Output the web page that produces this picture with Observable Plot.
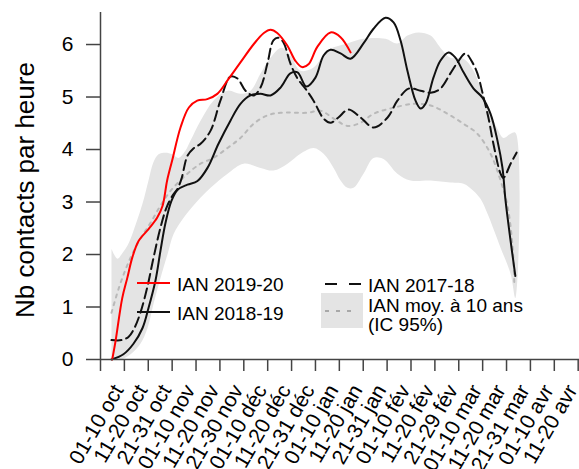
<!DOCTYPE html>
<html><head><meta charset="utf-8">
<script src="https://cdn.jsdelivr.net/npm/d3@7"></script>
<script src="https://cdn.jsdelivr.net/npm/@observablehq/plot@0.6"></script>
<style>
body{margin:0;background:#fff;}
#chart{width:579px;height:469px;}
</style></head><body><div id="chart"></div>
<script>
// ---- tick labels (x positions 1..20) ----
const xTickLabels = ["01-10 oct","11-20 oct","21-31 oct","01-10 nov","11-20 nov","21-30 nov","01-10 déc","11-20 déc","21-31 déc","01-10 jan","11-20 jan","21-31 jan","01-10 fév","11-20 fév","21-29 fév","01-10 mar","11-20 mar","21-31 mar","01-10 avr","11-20 avr"];
const yTicks = [0,1,2,3,4,5,6];

// ---- IAN 2019-20 (red) ----
const ian1920_x = [0.49,0.63,0.91,1.12,1.33,1.60,2.02,2.37,2.60,2.79,3.00,3.35,3.70,4.05,4.47,4.89,5.37,5.86,6.42,6.84,7.12,7.40,7.82,8.16,8.44,8.72,9.07,9.63,10.05,10.47];
const ian1920_y = [0.00,0.35,1.17,1.55,1.94,2.26,2.49,2.70,2.93,3.41,3.79,4.42,4.80,4.93,4.96,5.06,5.35,5.66,6.01,6.22,6.28,6.22,5.98,5.69,5.57,5.63,5.95,6.23,6.14,5.85];

// ---- IAN 2018-19 (black solid) ----
const ian1819_x = [0.46,0.96,1.38,1.76,2.01,2.30,2.51,2.72,2.97,3.22,3.64,4.06,4.48,4.94,5.44,5.86,6.28,6.70,7.12,7.54,7.95,8.25,8.62,9.00,9.34,9.63,10.05,10.47,11.01,11.43,11.93,12.27,12.56,12.85,13.19,13.40,13.61,13.94,14.23,14.57,14.86,15.20,15.62,15.99,16.33,16.62,16.83,16.96,17.17,17.37];
const ian1819_y = [0.00,0.10,0.30,0.60,0.98,1.50,2.07,2.60,3.02,3.23,3.33,3.40,3.65,4.11,4.55,4.87,5.03,5.06,5.03,5.18,5.45,5.47,5.20,5.37,5.79,5.90,5.83,5.73,6.02,6.30,6.51,6.42,6.08,5.50,4.93,4.78,4.87,5.37,5.69,5.85,5.75,5.47,5.16,4.99,4.68,4.17,3.65,3.02,2.26,1.59];

// ---- IAN 2017-18 (black dashed) ----
const ian1718_x = [0.46,0.88,1.17,1.42,1.67,1.97,2.22,2.51,2.76,3.01,3.22,3.39,3.64,3.89,4.19,4.61,5.02,5.44,5.74,6.07,6.41,6.70,6.99,7.24,7.45,7.66,7.95,8.25,8.58,8.92,9.34,9.63,9.96,10.38,10.89,11.43,12.02,12.43,12.90,13.40,13.82,14.23,14.65,14.95,15.28,15.57,15.78,16.04,16.24,16.45,16.75,16.87,17.17,17.42];
const ian1718_y = [0.37,0.37,0.43,0.60,0.89,1.40,1.94,2.51,2.89,3.12,3.25,3.44,3.88,4.02,4.11,4.36,4.93,5.39,5.35,5.12,5.03,5.18,5.64,6.08,6.13,6.04,5.64,5.35,5.16,4.93,4.59,4.51,4.61,4.76,4.61,4.42,4.61,4.93,5.16,5.12,5.08,5.16,5.45,5.66,5.83,5.66,5.45,4.99,4.61,4.11,3.54,3.46,3.73,3.94];

// ---- IAN moyen 10 ans (grey dotted) ----
const mean_x = [0.46,0.84,1.26,1.67,2.09,2.51,2.93,3.64,4.19,4.73,5.32,5.86,6.41,6.99,7.54,8.67,9.21,9.76,10.34,10.89,11.43,12.14,13.11,13.82,14.53,15.20,15.78,16.33,16.75,17.04,17.25,17.33];
const mean_y = [0.89,1.46,1.94,2.30,2.60,2.93,3.21,3.54,3.73,3.84,4.03,4.22,4.49,4.65,4.70,4.70,4.74,4.59,4.45,4.51,4.68,4.78,4.87,4.84,4.68,4.49,4.30,3.92,3.41,2.93,2.16,1.40];

// ---- IC 95% band ----
const bandUp_x = [0.46,0.71,0.92,1.13,1.38,1.76,2.01,2.22,2.43,2.72,3.01,3.27,3.56,3.77,4.19,4.73,5.32,5.86,6.28,6.70,7.12,7.58,7.95,8.37,8.92,9.50,10.34,11.01,11.93,12.43,12.85,13.31,13.82,14.23,14.65,15.20,15.62,15.91,16.33,16.62,16.87,17.17,17.37];
const bandUp_y = [2.11,1.92,2.03,2.17,2.45,2.97,3.41,3.76,3.91,3.94,3.91,3.84,3.98,4.17,4.55,4.93,5.12,5.06,5.12,5.45,5.75,5.94,5.79,5.50,5.56,5.89,6.02,6.11,6.11,6.02,6.17,6.23,6.17,5.94,5.75,5.73,5.50,5.18,4.68,4.39,4.22,4.30,4.32];
const bandLo_x = [0.46,0.84,1.26,1.67,1.97,2.22,2.51,2.81,3.06,3.48,4.06,4.61,5.32,5.99,6.70,7.24,7.83,8.37,8.92,9.34,9.76,10.05,10.34,10.59,11.01,11.43,11.85,12.43,12.98,13.82,14.65,15.20,15.62,15.91,16.20,16.75,17.17,17.37];
const bandLo_y = [0.00,0.00,0.10,0.30,0.60,1.06,1.55,2.01,2.39,2.70,3.02,3.27,3.54,3.73,3.65,3.60,3.73,3.92,4.03,3.92,3.65,3.41,3.27,3.27,3.54,3.84,3.82,3.54,3.41,3.41,3.37,3.35,3.21,3.06,2.78,2.13,1.63,1.17];

// ---- legend ----
const legendLabels = ["IAN 2019-20","IAN 2018-19","IAN 2017-18","IAN moy. à 10 ans","(IC 95%)"];

const pts = (xs, ys) => xs.map((x, i) => ({x, y: ys[i]}));
const s1920 = pts(ian1920_x, ian1920_y);
const s1819 = pts(ian1819_x, ian1819_y);
const s1718 = pts(ian1718_x, ian1718_y);
const sMean = pts(mean_x, mean_y);
const band = pts(bandUp_x, bandUp_y).concat(pts(bandLo_x, bandLo_y).reverse());
const xLabels = xTickLabels.map((label, i) => ({x: i + 1, label}));

const FONT = "'Liberation Sans', Arial, sans-serif";
const xMax = 20.055, yMax = 6.61;

const plot = Plot.plot({
  width: 579, height: 469,
  marginLeft: 100, marginRight: 0, marginTop: 12, marginBottom: 110,
  style: {fontFamily: FONT, background: "#fff", color: "#000", overflow: "visible"},
  x: {domain: [0, xMax]},
  y: {domain: [0, yMax]},
  marks: [
    Plot.line(band, {x: "x", y: "y", fill: "#e4e4e4", stroke: "none", curve: "catmull-rom"}),
    Plot.line(sMean, {x: "x", y: "y", stroke: "#b9b9b9", strokeWidth: 2, strokeDasharray: "3,5", curve: "catmull-rom"}),
    Plot.line(s1718, {x: "x", y: "y", stroke: "#111", strokeWidth: 2, strokeDasharray: "10,5", curve: "catmull-rom"}),
    Plot.line(s1819, {x: "x", y: "y", stroke: "#111", strokeWidth: 2, curve: "catmull-rom"}),
    Plot.line(s1920, {x: "x", y: "y", stroke: "#ff0000", strokeWidth: 2, curve: "catmull-rom"}),
    Plot.ruleX([0], {y1: 0, y2: yMax, stroke: "#444", strokeWidth: 1.5}),
    Plot.ruleY([0], {x1: 0, x2: xMax, stroke: "#444", strokeWidth: 1.5}),
    Plot.axisY(yTicks, {tickSize: 14, tickPadding: 13, fontSize: 21, stroke: "#444", strokeWidth: 1.5, label: null, tickFormat: d3.format("d")}),
    Plot.axisX(d3.range(0, 21), {tickSize: 12, stroke: "#444", strokeWidth: 1.5, label: null, tickFormat: () => ""}),
    Plot.text(xLabels, {x: "x", text: "label", frameAnchor: "bottom", rotate: -60, textAnchor: "end", lineAnchor: "middle",
      dx: -6, dy: 27, fontSize: 21, fill: "#000"}),
    Plot.text(["Nb contacts par heure"], {frameAnchor: "left", textAnchor: "middle", rotate: -90, dx: -75, dy: 4, fontSize: 26, fill: "#000"})
  ]
});
document.getElementById("chart").appendChild(plot);

// legend drawn inside the plot area
const svg = d3.select(plot);
const g = svg.append("g").attr("font-family", FONT).attr("font-size", 19).attr("fill", "#000").attr("text-anchor", "start");
const leg = [
  {lx: 137, ly: 283, ty: 284, tx: 177, color: "#ff0000", dash: null, label: legendLabels[0]},
  {lx: 137, ly: 312, ty: 313, tx: 177, color: "#111", dash: null, label: legendLabels[1]},
  {lx: 325, ly: 284, ty: 285, tx: 368, color: "#111", dash: "12,12", label: legendLabels[2]}
];
g.append("rect").attr("x", 321).attr("y", 293).attr("width", 42).attr("height", 35).attr("fill", "#e4e4e4");
g.append("line").attr("x1", 325).attr("x2", 355).attr("y1", 311).attr("y2", 311)
  .attr("stroke", "#a8a8a8").attr("stroke-width", 2).attr("stroke-dasharray", "4,7");
for (const d of leg) {
  g.append("line").attr("x1", d.lx).attr("x2", d.lx + (d.dash ? 36 : 33)).attr("y1", d.ly).attr("y2", d.ly)
    .attr("stroke", d.color).attr("stroke-width", 2).attr("stroke-dasharray", d.dash);
  g.append("text").attr("x", d.tx).attr("y", d.ty).attr("dy", "0.35em").text(d.label);
}
g.append("text").attr("x", 368).attr("y", 305).attr("dy", "0.35em").text(legendLabels[3]);
g.append("text").attr("x", 368).attr("y", 324).attr("dy", "0.35em").text(legendLabels[4]);
</script>
</body></html>
